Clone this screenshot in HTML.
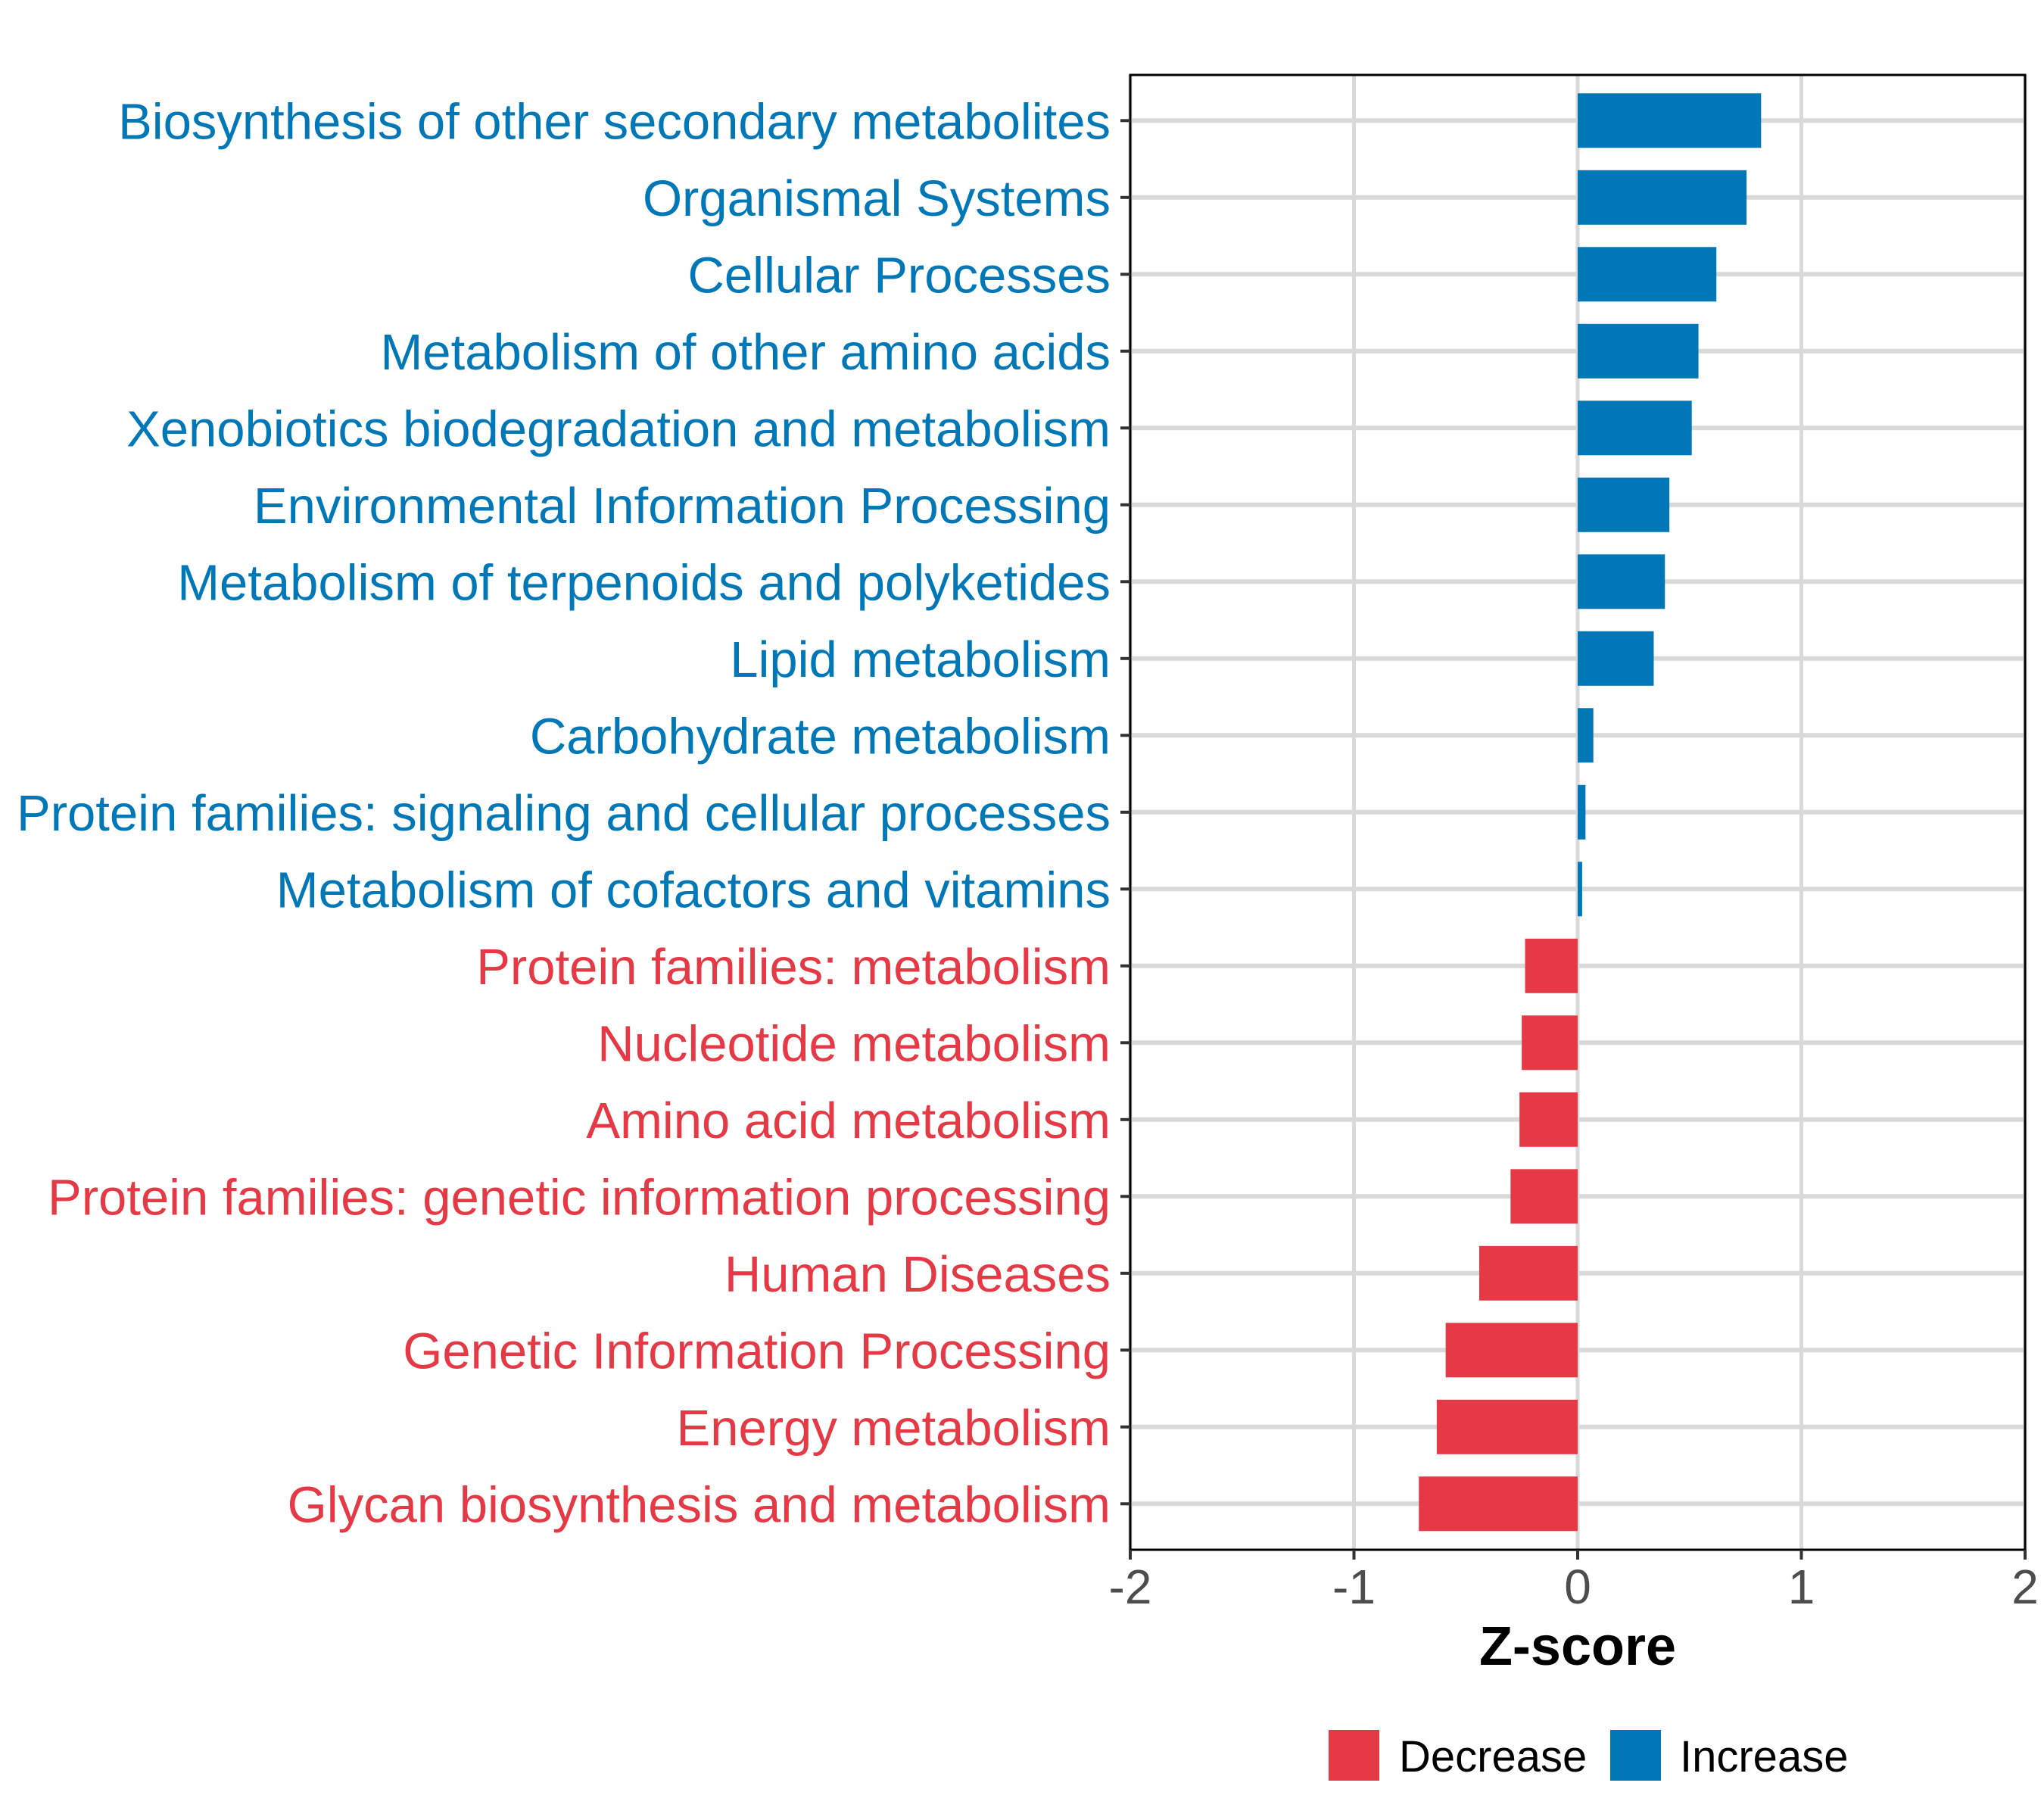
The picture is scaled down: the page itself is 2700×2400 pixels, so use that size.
<!DOCTYPE html>
<html><head><meta charset="utf-8"><style>
html,body{margin:0;padding:0;background:#fff;}
svg{display:block;font-family:"Liberation Sans",sans-serif;}
</style></head><body>
<svg id="chart" width="2700" height="2400" viewBox="0 0 2700 2400"></svg>
<script>
const categories = ["Biosynthesis of other secondary metabolites","Organismal Systems","Cellular Processes","Metabolism of other amino acids","Xenobiotics biodegradation and metabolism","Environmental Information Processing","Metabolism of terpenoids and polyketides","Lipid metabolism","Carbohydrate metabolism","Protein families: signaling and cellular processes","Metabolism of cofactors and vitamins","Protein families: metabolism","Nucleotide metabolism","Amino acid metabolism","Protein families: genetic information processing","Human Diseases","Genetic Information Processing","Energy metabolism","Glycan biosynthesis and metabolism"];
const zscores = [0.82,0.755,0.62,0.54,0.51,0.41,0.39,0.34,0.07,0.035,0.02,-0.235,-0.25,-0.26,-0.30,-0.44,-0.59,-0.63,-0.71];
const xTicks = [-2,-1,0,1,2];
const xTickLabels = ["-2","-1","0","1","2"];
const legendLabels = ["Decrease","Increase"];

const NS="http://www.w3.org/2000/svg";
const svg=document.getElementById('chart');
const L=1493,R=2675,T=99,B=2047;
const x=v=>L+(v+2)/4*(R-L);
const step=101.5, y0=159.3;
const y=i=>y0+i*step;
const BLUE="#0077b6", RED="#e63946";
function mk(tag,attrs,parent){const e=document.createElementNS(NS,tag);for(const k in attrs)e.setAttribute(k,attrs[k]);(parent||svg).appendChild(e);return e;}

xTicks.forEach(t=>{
  const g=mk('line',{x1:x(t),x2:x(t),y1:T,y2:B,stroke:'#d9d9d9','stroke-width':5});
  
  
});
categories.forEach((c,i)=>{
  const g=mk('line',{x1:L,x2:R,y1:y(i),y2:y(i),stroke:'#d9d9d9','stroke-width':6});
  
  
});
zscores.forEach((v,i)=>{
  const x1=Math.min(x(0),x(v)),w=Math.abs(x(v)-x(0));
  const r=mk('rect',{x:x1,y:y(i)-36,width:w,height:72,fill:v>=0?BLUE:RED});
  
  
});
const pb=mk('rect',{x:L,y:T,width:R-L,height:B-T,fill:'none',stroke:'#000','stroke-width':3});


categories.forEach((c,i)=>{
  const tk=mk('line',{x1:1480,x2:L,y1:y(i),y2:y(i),stroke:'#333','stroke-width':4});
  
  
  const t=mk('text',{x:1467,y:y(i)+24,'text-anchor':'end','font-size':67,fill:zscores[i]>=0?BLUE:RED});
  t.textContent=c;
  
  
});
xTicks.forEach((tv,i)=>{
  const tk=mk('line',{x1:x(tv),x2:x(tv),y1:B,y2:B+13,stroke:'#333','stroke-width':4});
  
  
  const t=mk('text',{x:x(tv),y:2118,'text-anchor':'middle','font-size':64,fill:'#4d4d4d'});
  t.textContent=xTickLabels[i];
  
  
});
const xt=mk('text',{x:x(0),y:2199,'text-anchor':'middle','font-size':72,'font-weight':'bold',fill:'#000'});
xt.textContent="Z-score";


const lg=mk('g',{});


const keyX=[1755,2127], txtX=[1848,2219], cols=[RED,BLUE];
legendLabels.forEach((lab,i)=>{
  const k=mk('rect',{x:keyX[i],y:2285,width:67,height:67,fill:cols[i]},lg);
  
  
  const t=mk('text',{x:txtX[i],y:2340,'font-size':58,fill:'#000'},lg);
  t.textContent=lab;
  
  
});
</script>
</body></html>
